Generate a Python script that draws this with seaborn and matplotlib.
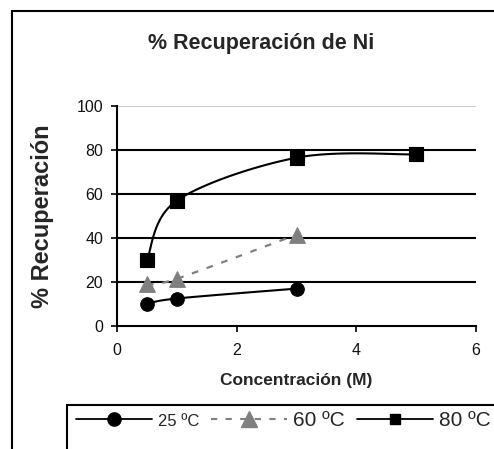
import numpy as np
import pandas as pd
import matplotlib
matplotlib.use("Agg")
import matplotlib.pyplot as plt
import seaborn as sns
from matplotlib.patches import Rectangle
from matplotlib.lines import Line2D

# Data
conc_25 = [0.5, 1, 3]
rec_25 = [10, 12.5, 17]
conc_60 = [0.5, 1, 3]
rec_60 = [19, 21.5, 41.5]
conc_80 = [0.5, 1, 3, 5]
rec_80 = [30, 57, 76.5, 78]
series_labels = ["25 ºC", "60 ºC", "80 ºC"]
x_ticks = [0, 2, 4, 6]
y_ticks = [0, 20, 40, 60, 80, 100]

sns.set_theme(style="white")
plt.rcParams['font.family'] = ['Liberation Sans', 'DejaVu Sans']

fig = plt.figure(figsize=(4.94, 4.49), dpi=100)
ax = fig.add_axes([117/494, 1-326/449, (476-117)/494, (326-106)/449])

def smooth(xs, ys, sx=6.0, sy=100.0, n=40):
    # Excel-like Bezier smoothing computed in normalized space
    P = np.column_stack([np.array(xs)/sx, np.array(ys)/sy])
    out = []
    for i in range(len(P)-1):
        p0 = P[i-1] if i > 0 else P[i]
        p1 = P[i]
        p2 = P[i+1]
        p3 = P[i+2] if i+2 < len(P) else P[i+1]
        c1 = p1 + (p2 - p0)/6
        c2 = p2 - (p3 - p1)/6
        t = np.linspace(0, 1, n)[:, None]
        seg = (1-t)**3*p1 + 3*(1-t)**2*t*c1 + 3*(1-t)*t**2*c2 + t**3*p2
        out.append(seg)
    S = np.vstack(out)
    return S[:, 0]*sx, S[:, 1]*sy

# gridlines
for yv in y_ticks[1:-1]:
    ax.axhline(yv, color='black', lw=1.5, zorder=1)
ax.axhline(100, color='#cccccc', lw=0.8, zorder=1)

xs, ys = smooth(conc_25, rec_25)
ax.plot(xs, ys, color='black', lw=1.5, zorder=2)
xs, ys = smooth(conc_60, rec_60)
ax.plot(xs, ys, color='#808080', lw=1.6, ls=(0, (3, 4)), zorder=2)
xs, ys = smooth(conc_80, rec_80)
ax.plot(xs, ys, color='black', lw=1.5, zorder=2)

df25 = pd.DataFrame({"x": conc_25, "y": rec_25})
df60 = pd.DataFrame({"x": conc_60, "y": rec_60})
df80 = pd.DataFrame({"x": conc_80, "y": rec_80})
sns.scatterplot(data=df25, x="x", y="y", ax=ax, marker='o', s=95, color='black', edgecolor='black', zorder=3)
sns.scatterplot(data=df60, x="x", y="y", ax=ax, marker='^', s=125, color='#808080', edgecolor='#808080', zorder=3)
sns.scatterplot(data=df80, x="x", y="y", ax=ax, marker='s', s=105, color='black', edgecolor='black', zorder=3)

ax.set_xlim(0, 6)
ax.set_ylim(0, 100)
ax.set_xticks(x_ticks)
ax.set_yticks(y_ticks)
ax.tick_params(axis='both', direction='out', length=4, width=1.2, labelsize=11.5, color='black',
               bottom=True, left=True, labelcolor='#111111')
ax.tick_params(axis='x', pad=8)
ax.tick_params(axis='y', pad=6)
for s in ['top', 'right']:
    ax.spines[s].set_visible(False)
for s in ['left', 'bottom']:
    ax.spines[s].set_color('black')
    ax.spines[s].set_linewidth(1.5)
ax.set_xlabel("Concentración (M)", fontsize=12.5, fontweight='bold')
ax.xaxis.set_label_coords(0.5, -0.213)
ax.set_ylabel("% Recuperación", fontsize=17, fontweight='bold')
ax.yaxis.set_label_coords(-0.175, 0.5)
fig.text(261/494, 1-43/449, "% Recuperación de Ni", ha='center', va='center', fontsize=15.5, fontweight='bold')

# outer frame
fig.patches.append(Rectangle((12/494, -0.1), 1.2, 0.1 + 1-11/449, transform=fig.transFigure,
                             fill=False, edgecolor='black', lw=1.5))
# legend frame
fig.patches.append(Rectangle((67/494, -0.1), 1.2, 0.1 + 1-405/449, transform=fig.transFigure,
                             fill=False, edgecolor='black', lw=1.5))

handles = [
    Line2D([], [], color='black', lw=1.3, marker='o', markersize=9.5),
    Line2D([], [], color='#808080', lw=1.5, ls=(0, (3, 4)), marker='^', markersize=11),
    Line2D([], [], color='black', lw=1.3, marker='s', markersize=7.5),
]
leg = fig.legend(handles, series_labels, loc='center left', bbox_to_anchor=(76/494, 1-421/449),
                 ncol=3, frameon=False, fontsize=15, handlelength=3.65, columnspacing=0.55,
                 handletextpad=0.3, borderaxespad=0, borderpad=0)
leg.get_texts()[0].set_fontsize(12)

fig.savefig("out.png", dpi=100)
